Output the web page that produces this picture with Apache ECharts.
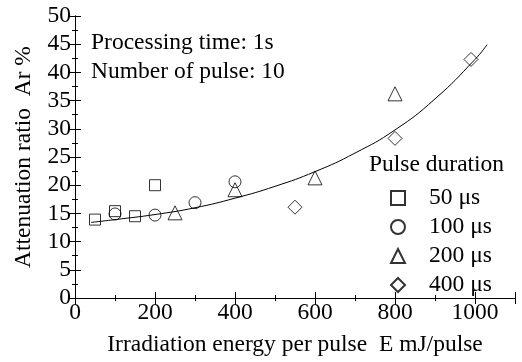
<!DOCTYPE html>
<html>
<head>
<meta charset="utf-8">
<script src="https://cdn.jsdelivr.net/npm/echarts@6/dist/echarts.min.js"></script>
<style>html,body{margin:0;padding:0;background:#fff}#c{width:522px;height:362px}</style>
</head>
<body>
<div id="c"></div>
<script>
const seriesNames = ['50 μs', '100 μs', '200 μs', '400 μs'];
const s50 = [[50, 13.9], [100, 15.4], [150, 14.5], [200, 20.0]];
const s100 = [[100, 14.9], [200, 14.7], [300, 16.9], [400, 20.6]];
const s200 = [[250, 15.1], [400, 19.2], [600, 21.3], [800, 36.2]];
const s400 = [[550, 16.1], [800, 28.3], [990, 42.3]];
const fitX = [40, 100, 200, 300, 400, 500, 600, 700, 800, 900, 1000, 1030];
const fitY = [13.4, 13.9, 14.8, 16.0, 17.7, 19.8, 22.4, 25.7, 29.8, 35.3, 42.3, 44.9];
const annotations = ['Processing time: 1s', 'Number of pulse: 10'];
const legendTitle = 'Pulse duration';

const FONT = 'Liberation Serif';
const FS = 23.5;
const chart = echarts.init(document.getElementById('c'), null, {renderer: 'canvas'});
const mk = (name, data, symbol, size) => ({
  type: 'scatter', name, data, symbol, symbolSize: size, z: 3,
  itemStyle: {color: 'rgba(0,0,0,0)', borderColor: '#000', borderWidth: 1},
  emphasis: {disabled: true}
});
const baseAxis = {
  axisLine: {show: true, lineStyle: {color: '#000', width: 1}},
  axisTick: {show: true, inside: true, length: 6, lineStyle: {color: '#000'}},
  minorTick: {show: true, splitNumber: 2, length: 3, lineStyle: {color: '#000'}},
  splitLine: {show: false},
};
chart.setOption({
  animation: false,
  grid: {left: 75, right: 7, top: 16, bottom: 62},
  xAxis: [
    Object.assign({}, baseAxis, {
      type: 'value', min: 0, max: 1100, interval: 200,
      name: 'Irradiation energy per pulse  E mJ/pulse', nameLocation: 'middle', nameGap: 35,
      nameTextStyle: {fontFamily: FONT, fontSize: FS, color: '#000'},
      axisLabel: {fontFamily: FONT, fontSize: FS, color: '#000', margin: 3, showMaxLabel: false,
        formatter: v => String(v)}
    }),
    Object.assign({}, baseAxis, {
      type: 'value', position: 'top', min: 0, max: 1100, interval: 200,
      axisLabel: {show: false}
    })
  ],
  yAxis: [
    Object.assign({}, baseAxis, {
      type: 'value', min: 0, max: 50, interval: 5,
      name: 'Attenuation ratio  Ar %', nameLocation: 'middle', nameGap: 39,
      nameTextStyle: {fontFamily: FONT, fontSize: FS, color: '#000'},
      axisLabel: {fontFamily: FONT, fontSize: FS, color: '#000', margin: 4}
    }),
    Object.assign({}, baseAxis, {
      type: 'value', position: 'right', min: 0, max: 50, interval: 5,
      axisLabel: {show: false}
    })
  ],
  legend: {
    orient: 'vertical', left: 390, top: 186, itemGap: 5, padding: 0,
    itemWidth: 14, itemHeight: 14,
    data: seriesNames,
    textStyle: {fontFamily: FONT, fontSize: FS, color: '#000', padding: [0, 0, 0, 19]},
    selectedMode: false
  },
  graphic: [
    {type: 'text', left: 91, top: 31, style: {text: annotations[0], font: FS + 'px "' + FONT + '"', fill: '#000'}},
    {type: 'text', left: 91, top: 60, style: {text: annotations[1], font: FS + 'px "' + FONT + '"', fill: '#000'}},
    {type: 'text', left: 369, top: 153, style: {text: legendTitle, font: FS + 'px "' + FONT + '"', fill: '#000'}}
  ],
  series: [
    {
      type: 'line', data: fitX.map((x, i) => [x, fitY[i]]), smooth: true, symbol: 'none', z: 2,
      lineStyle: {color: '#000', width: 1}, emphasis: {disabled: true}
    },
    mk(seriesNames[0], s50, 'rect', 11),
    mk(seriesNames[1], s100, 'circle', 12),
    mk(seriesNames[2], s200, 'triangle', 14),
    mk(seriesNames[3], s400, 'diamond', 14)
  ]
});
</script>
</body>
</html>
